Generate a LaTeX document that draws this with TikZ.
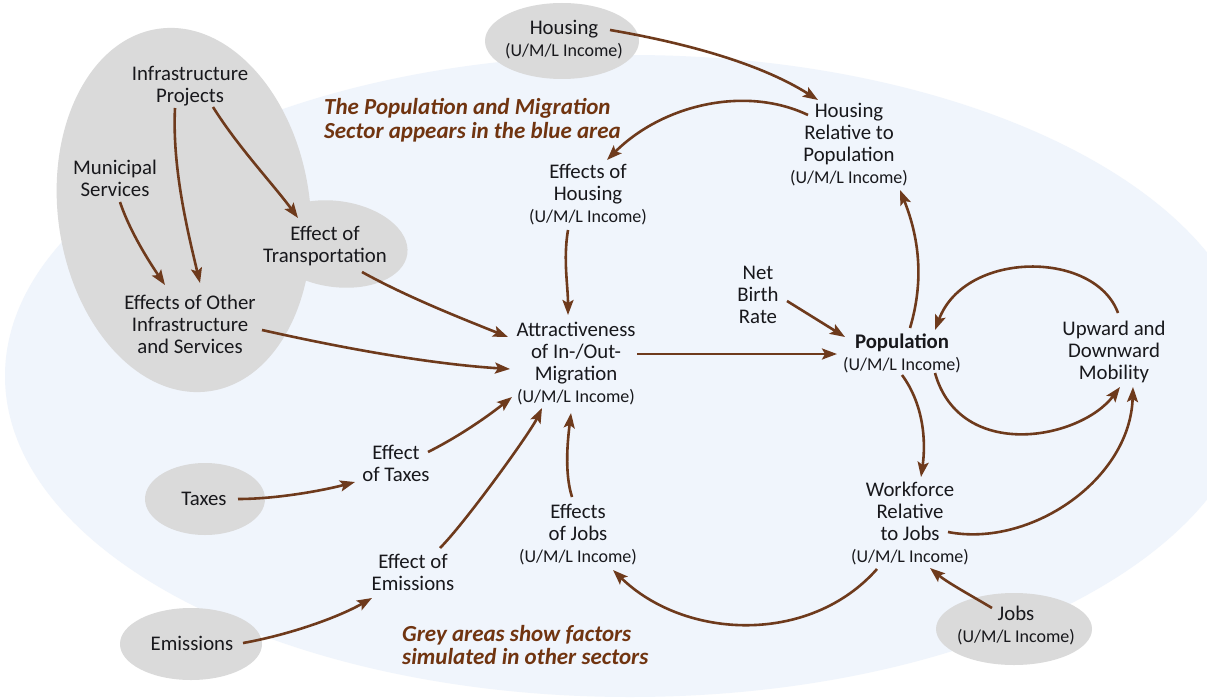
\documentclass[tikz,border=0pt]{standalone}
\usepackage{fontspec}
\setmainfont{Carlito}
\usetikzlibrary{arrows.meta,calc}

\definecolor{zonefill}{RGB}{240,245,252}
\definecolor{extfill}{RGB}{218,218,218}
\definecolor{linkbrown}{RGB}{110,58,28}
\definecolor{notebrown}{RGB}{112,52,16}
\definecolor{inktext}{RGB}{24,24,28}

\newcommand\incomeline{{\fontsize{18}{20}\selectfont(U/M/L Income)}}

\begin{document}
\begin{tikzpicture}[x=1pt,y=-1pt,
  var/.style={align=center, text=inktext, font=\fontsize{20.8}{22}\selectfont, inner sep=0pt},
  link/.style={draw=linkbrown, line width=2.6pt, -{Stealth[length=15pt,width=11pt,inset=3pt]}},
  note/.style={align=left, text=notebrown, font=\fontsize{23}{23.5}\selectfont\bfseries\itshape, anchor=west, inner sep=0pt}
]
% page and the population / migration sector
\path[use as bounding box, fill=white] (0,0) rectangle (1207,698);
\begin{scope}
  \clip (0,0) rectangle (1207,698);
  \fill[zonefill] (630,376) ellipse [x radius=625, y radius=321];
\end{scope}

% factors from other sectors
\fill[extfill, rotate around={8:(184,210)}] (184,210) ellipse [x radius=126, y radius=183];
\fill[extfill, rotate around={-8:(336,244)}] (336,244) ellipse [x radius=72, y radius=43];
\fill[extfill] (562,41) ellipse [x radius=77, y radius=38];
\fill[extfill] (205,499) ellipse [x radius=60, y radius=36];
\fill[extfill] (191,644) ellipse [x radius=71, y radius=36];
\fill[extfill] (1014,629) ellipse [x radius=78, y radius=36];

% variables
\node[var] (infra) at (190,86) {Infrastructure\\Projects};
\node[var] (muni) at (115,178) {Municipal\\Services};
\node[var] (trans) at (325,246) {Effect of\\Transportation};
\node[var] (other) at (190,324) {Effects of Other\\Infrastructure\\and Services};
\node[var] (housing) at (564,40) {Housing\\\incomeline};
\node[var] (hrel) at (849,145) {Housing\\Relative to\\Population\\\incomeline};
\node[var] (ehous) at (588,195) {Effects of\\Housing\\\incomeline};
\node[var] (nbr) at (758,295) {Net\\Birth\\Rate};
\node[var] (attr) at (576,364) {Attractiveness\\of In-/Out-\\Migration\\\incomeline};
\node[var] (pop) at (902,353) {\textbf{Population}\\\incomeline};
\node[var] (mob) at (1114,352) {Upward and\\Downward\\Mobility};
\node[var] (etax) at (396,463) {Effect\\of Taxes};
\node[var] (taxes) at (204,499) {Taxes};
\node[var] (ejobs) at (578,535) {Effects\\of Jobs\\\incomeline};
\node[var] (wf) at (910,524) {Workforce\\Relative\\to Jobs\\\incomeline};
\node[var] (eemis) at (413,572) {Effect of\\Emissions};
\node[var] (emis) at (192,643) {Emissions};
\node[var] (jobs) at (1016,626) {Jobs\\\incomeline};

% notes
\node[note] (sectornote) at (324,120) {The Population and Migration\\Sector appears in the blue area};
\node[note] (greynote) at (402,645) {Grey areas show factors\\simulated in other sectors};

% causal links
\draw[link] ($(infra)+(23,21)$) .. controls +(25,40) and +(-25,-34) .. ($(trans)+(-27,-28)$);
\draw[link] ($(infra)+(-15,22)$) .. controls +(-3,60) and +(-12,-50) .. ($(other)+(10,-41)$);
\draw[link] ($(muni)+(5,24)$) .. controls +(10,30) and +(-15,-22) .. ($(other)+(-25,-39)$);
\draw[link] ($(trans)+(37,26)$) .. controls +(45,25) and +(-45,-18) .. ($(attr)+(-68,-27)$);
\draw[link] ($(other)+(72,6)$) .. controls +(80,18) and +(-80,-5) .. ($(attr)+(-66,5)$);
\draw[link] ($(housing)+(46,-10)$) .. controls +(70,12) and +(-60,-38) .. ($(hrel)+(-31,-45)$);
\draw[link] ($(hrel)+(-41,-30)$) .. controls +(-63,-30) and +(55,-55) .. ($(ehous)+(19,-35)$);
\draw[link] ($(ehous)+(-20,35)$) .. controls +(-5,30) and +(0,-30) .. ($(attr)+(-8,-49)$);
\draw[link] ($(attr)+(61,-10)$) -- ($(pop)+(-65,1)$);
\draw[link] ($(nbr)+(29,6)$) -- ($(pop)+(-57,-16)$);
\draw[link] ($(pop)+(8,-25)$) .. controls +(15,-50) and +(18,45) .. ($(hrel)+(51,45)$);
\draw[link] ($(mob)+(4,-39)$) .. controls +(-23,-63) and +(30,-80) .. ($(pop)+(33,-23)$);
\draw[link] ($(pop)+(33,20)$) .. controls +(25,89) and +(-40,53) .. ($(mob)+(6,35)$);
\draw[link] ($(pop)+(0,22)$) .. controls +(22,30) and +(5,-35) .. ($(wf)+(11,-47)$);
\draw[link] ($(wf)+(38,8)$) .. controls +(82,16) and +(-3,93) .. ($(mob)+(19,35)$);
\draw[link] ($(jobs)+(-24,-18)$) .. controls +(-20,-12) and +(18,15) .. ($(wf)+(20,44)$);
\draw[link] ($(wf)+(-33,45)$) .. controls +(-67,76) and +(72,70) .. ($(ejobs)+(35,35)$);
\draw[link] ($(ejobs)+(-6,-38)$) .. controls +(-8,-25) and +(-3,25) .. ($(attr)+(-5,49)$);
\draw[link] ($(etax)+(32,-11)$) .. controls +(30,-15) and +(-25,20) .. ($(attr)+(-64,33)$);
\draw[link] ($(eemis)+(27,-24)$) .. controls +(25,-25) and +(-12,25) .. ($(attr)+(-34,44)$);
\draw[link] ($(taxes)+(34,0)$) .. controls +(40,0) and +(-30,8) .. ($(etax)+(-41,19)$);
\draw[link] ($(emis)+(51,0)$) .. controls +(45,-8) and +(-35,20) .. ($(eemis)+(-41,26)$);
\end{tikzpicture}
\end{document}
